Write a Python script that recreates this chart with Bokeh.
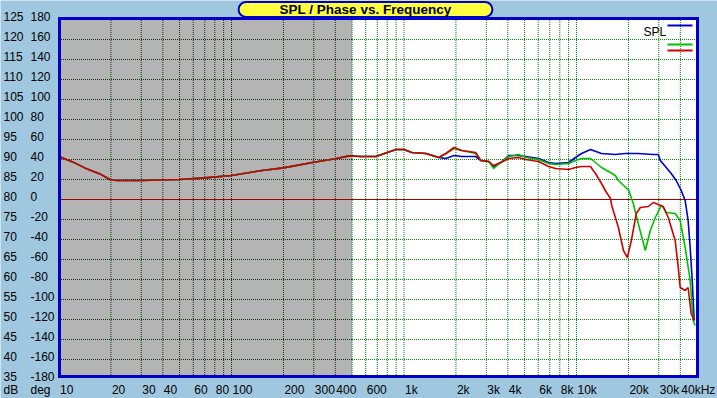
from bokeh.plotting import figure
from bokeh.models import ColumnDataSource, LabelSet, Label, Arrow, Range1d, BoxAnnotation
from bokeh.core.properties import value
from bokeh.embed import file_html
from bokeh.resources import INLINE

# ---------------- data ----------------
# shared low-frequency part (all three curves coincide)
freq_low = [10, 12, 14.1, 17.3, 19.7, 21.6, 30, 50, 70, 100, 150, 200, 300, 400, 480,
            560, 690, 770, 900, 1000, 1110, 1340, 1590]
spl_low = [90.75, 89.4, 87.9, 86.4, 85.0, 84.75, 84.75, 85.0, 85.4, 86.0, 87.25, 87.9, 89.3, 90.2, 90.9,
           90.75, 90.75, 91.5, 92.5, 92.5, 91.75, 91.5, 90.5]

freq_blue_hi = [1750, 1950, 2160, 2600, 2790, 3100, 3310, 3640, 4050, 4620, 5080, 6030, 6890, 7560,
                9000, 9870, 10700, 12050, 13960, 16800, 19190, 22800, 27860, 29790, 30620, 35400,
                37840, 40460, 42660, 44370, 45600, 46870, 48100]
spl_blue_hi = [90.25, 91.0, 90.75, 90.75, 89.75, 89.5, 88.25, 89.25, 91.0, 91.0, 90.75, 90.25, 89.25, 89.0,
               89.25, 90.5, 91.5, 92.5, 91.5, 91.25, 91.5, 91.5, 91.25, 91.25, 89.75, 86.5,
               84.75, 82.25, 79.75, 74.75, 68.0, 59.75, 49.75]

freq_green_hi = [1750, 1950, 2160, 2600, 2790, 3100, 3310, 3640, 4050, 4620, 5080, 6030, 6890, 7560,
                 9000, 9870, 10700, 12050, 12880, 13960, 15740, 16800, 17500, 20100, 21340, 22800,
                 25060, 26790, 28640, 30990, 31840, 33110, 37330, 39900, 42660, 45600, 47430, 48750]
spl_green_hi = [91.5, 92.75, 92.25, 91.5, 89.75, 89.5, 87.75, 89.25, 90.75, 91.25, 90.5, 90.0, 89.0, 88.75,
                89.0, 89.75, 90.25, 90.25, 89.25, 88.0, 86.75, 86.0, 84.75, 82.25, 79.0, 74.0,
                67.25, 72.25, 75.5, 78.5, 78.0, 76.75, 76.5, 74.75, 68.0, 59.75, 49.75, 48.5]

freq_red_hi = [1750, 1950, 2160, 2600, 2790, 3100, 3310, 3640, 4050, 4620, 5080, 6030, 6890, 7560,
               9000, 9870, 10700, 12050, 12880, 13960, 14800, 15740, 16000, 17500, 18710, 19720,
               20800, 22220, 23440, 26060, 27860, 29790, 31840, 34040, 37330, 38900, 39900,
               42660, 44370, 46200, 48100]
spl_red_hi = [91.5, 93.0, 92.25, 91.75, 89.75, 89.5, 88.5, 89.25, 90.25, 90.5, 90.0, 89.5, 88.25, 87.75,
              87.5, 88.0, 88.25, 88.25, 86.5, 84.0, 82.0, 80.25, 78.5, 73.0, 67.25, 65.5,
              69.75, 76.5, 78.0, 78.25, 79.25, 78.75, 78.25, 75.5, 69.75, 63.0, 58.0,
              57.25, 58.0, 51.5, 49.75]

# axes / ticks
db_ticks = [125, 120, 115, 110, 105, 100, 95, 90, 85, 80, 75, 70, 65, 60, 55, 50, 45, 40, 35]
deg_ticks = [180, 160, 140, 120, 100, 80, 60, 40, 20, 0, -20, -40, -60, -80, -100, -120, -140, -160, -180]
freq_tick_vals = [10, 20, 30, 40, 60, 80, 100, 200, 300, 400, 600, 1000, 2000, 3000, 4000,
                  6000, 8000, 10000, 20000, 30000, 40000]
freq_tick_labels = ["10", "20", "30", "40", "60", "80", "100", "200", "300", "400", "600", "1k", "2k",
                    "3k", "4k", "6k", "8k", "10k", "20k", "30k", "40kHz"]
grid_freqs = [m * d for d in (10, 100, 1000, 10000) for m in range(1, 10)
              if 10 < m * d < 50000]
grid_db = [40, 45, 50, 55, 60, 65, 70, 75, 85, 90, 95, 100, 105, 110, 115, 120]
f_min, f_max = 10, 50000
gray_band = [10, 500]
zero_db = 80

# ---------------- layout (pixels) ----------------
W, H = 717, 398
X10 = 58.5        # pixel x of 10 Hz
DEC = 172.5       # pixels per decade
Y120 = 39.0       # pixel y of the 120 dB grid line
PPD = 4.0         # pixels per dB
GRID_TOP, GRID_BOT = 17.5, 376.5          # extent of grid lines
BOX_L, BOX_R, BOX_T, BOX_B = 59.0, 697.0, 18.0, 376.0   # plot border (line centres)


def x_at(px):
    return 10 * 10 ** ((px - X10) / DEC)


def y_at(py):
    return 120 - (py - Y120) / PPD


BG = "#9FC7DF"
BLUE = "#0000C8"
FONT = "Liberation Sans"

p = figure(width=W, height=H, output_backend="svg", toolbar_location=None,
           x_axis_type="log", x_axis_location=None, y_axis_location=None,
           x_range=Range1d(x_at(0), x_at(W)), y_range=Range1d(y_at(H), y_at(0)),
           min_border=0, min_border_left=0, min_border_right=0, min_border_top=0, min_border_bottom=0,
           background_fill_color=BG, border_fill_color=BG, outline_line_color=None)
p.grid.visible = False

bl, br, bt, bb = x_at(BOX_L), x_at(BOX_R), y_at(BOX_T), y_at(BOX_B)
g_top, g_bot = y_at(GRID_TOP), y_at(GRID_BOT)

# plot area + gray band
p.add_layout(BoxAnnotation(left=bl, right=br, bottom=bb, top=bt, fill_color="white", fill_alpha=1.0,
                           line_color=None, level="underlay"))
p.add_layout(BoxAnnotation(left=gray_band[0], right=gray_band[1], bottom=bb, top=bt,
                           fill_color="#B4B4B4", fill_alpha=1.0, line_color=None, level="underlay"))

# grid lines
GDARK = "#183018"
GGREEN = "#008000"
vx = list(grid_freqs)
vsrc = ColumnDataSource(dict(x=vx, y0=[g_bot] * len(vx), y1=[g_top] * len(vx),
                             c=[GDARK if f < gray_band[1] else GGREEN for f in vx]))
p.segment(x0="x", y0="y0", x1="x", y1="y1", source=vsrc, line_color="c", line_width=1,
          line_dash="1 1")
hsrc_d = ColumnDataSource(dict(y=grid_db, x0=[gray_band[0]] * len(grid_db), x1=[gray_band[1]] * len(grid_db)))
p.segment(x0="x0", y0="y", x1="x1", y1="y", source=hsrc_d, line_color=GDARK, line_width=1, line_dash="1 1")
hsrc_g = ColumnDataSource(dict(y=grid_db, x0=[gray_band[1]] * len(grid_db), x1=[f_max] * len(grid_db)))
p.segment(x0="x0", y0="y", x1="x1", y1="y", source=hsrc_g, line_color=GGREEN, line_width=1, line_dash="1 1")

p.segment(x0=[f_min], y0=[zero_db], x1=[f_max], y1=[zero_db], line_color="#A80000", line_width=1)

# curves
lw = 1.6
p.line(freq_low + freq_blue_hi, spl_low + spl_blue_hi, line_color="#0000D0", line_width=lw)
p.line(freq_low + freq_green_hi, spl_low + spl_green_hi, line_color="#00C000", line_width=lw)
p.line(freq_low + freq_red_hi, spl_low + spl_red_hi, line_color="#D00000", line_width=lw)

# plot border (four segments, square caps close the corners)
p.segment(x0=[bl, br, br, bl], y0=[bb, bb, bt, bt], x1=[br, br, bl, bl], y1=[bb, bt, bt, bb],
          line_color=BLUE, line_width=3, line_cap="square")

# left labels
lab_base = dict(text_font_size="12px", text_color="black", text_align="left")
set_kw = dict(text_font=value(FONT), text_baseline="alphabetic", **lab_base)
one_kw = dict(text_font=FONT, text_baseline="middle", **lab_base)
db_src = ColumnDataSource(dict(y=db_ticks, x=[3] * len(db_ticks), t=[str(v) for v in db_ticks]))
p.add_layout(LabelSet(x="x", y="y", text="t", source=db_src, x_units="screen", y_units="data",
                      y_offset=-1.5, **set_kw))
deg_src = ColumnDataSource(dict(y=db_ticks, x=[30] * len(db_ticks), t=[str(v) for v in deg_ticks]))
p.add_layout(LabelSet(x="x", y="y", text="t", source=deg_src, x_units="screen", y_units="data",
                      y_offset=-1.5, **set_kw))

# bottom labels
p.add_layout(Label(x=3, y=8.5, x_units="screen", y_units="screen", text="dB", **one_kw))
p.add_layout(Label(x=30, y=8.5, x_units="screen", y_units="screen", text="deg", **one_kw))
f_src = ColumnDataSource(dict(x=freq_tick_vals, y=[4.5] * len(freq_tick_vals), t=freq_tick_labels))
p.add_layout(LabelSet(x="x", y="y", text="t", source=f_src, x_units="data", y_units="screen",
                      x_offset=1, **set_kw))

# title
p.add_layout(Label(x=365, y=389, x_units="screen", y_units="screen",
                   text="SPL / Phase vs. Frequency", text_font=FONT, text_font_size="13.5px",
                   text_font_style="bold", text_color="black", text_align="center",
                   text_baseline="middle", background_fill_color="#FFFF40",
                   border_line_color=BLUE, border_line_width=2, border_radius=8,
                   padding=dict(left=41, right=41, top=0, bottom=0)))

# legend
p.add_layout(Label(x=643, y=367, x_units="screen", y_units="screen", text="SPL", **one_kw))
for yy, col in ((373, "#0000D0"), (354, "#00C000"), (348, "#D00000")):
    p.add_layout(Arrow(x_start=667, y_start=yy, x_end=692, y_end=yy, start_units="screen",
                       end_units="screen", end=None, line_color=col, line_width=2))

open("out.html", "w").write(file_html(p, INLINE))
